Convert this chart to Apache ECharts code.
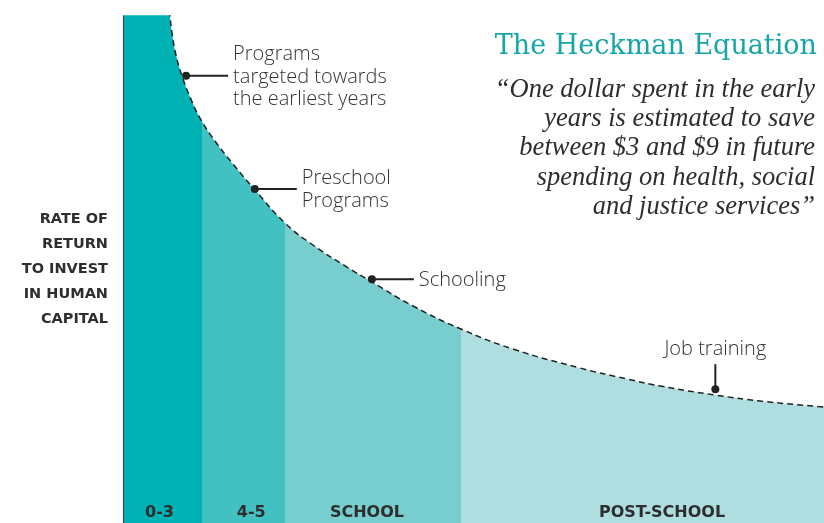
<!DOCTYPE html>
<html>
<head>
<meta charset="utf-8">
<script src="https://cdn.jsdelivr.net/npm/echarts@6/dist/echarts.min.js"></script>
<style>html,body{margin:0;padding:0;background:#fff}#c{width:824px;height:523px}</style>
</head>
<body>
<div id="c"></div>
<script>
// Curve (x: 0-100 along the life course, y: relative rate of return 0-100)
const curveX = [0, 6.4, 6.70, 6.99, 7.56, 8.42, 9.56, 10.98, 13.12, 15.69, 18.83, 23.11, 27.10, 31.95, 35.52, 41.37, 48.22, 55.63, 65.19, 71.90, 76.60, 84.45, 90.87, 100];
const curveY = [104, 104, 100.0, 96.65, 92.31, 88.17, 84.02, 79.88, 75.35, 70.81, 65.68, 59.17, 54.83, 50.49, 47.53, 42.80, 38.26, 34.32, 30.57, 28.40, 27.02, 25.25, 24.06, 22.88];

// Stage bands
const bandEdges = [0, 11.2, 23.1, 48.2, 100];
const bandNames = ['0-3', '4-5', 'SCHOOL', 'POST-SCHOOL'];
const bandLabelX = [5.2, 18.3, 34.8, 76.9];
const bandColors = ['#00b2b4', '#42c1c3', '#78cdce', '#afdee0'];

// Annotations
const annoLabels = ['Programs\ntargeted towards\nthe earliest years', 'Preschool\nPrograms', 'Schooling', 'Job training'];
const annoX = [9.0, 18.8, 35.5, 84.5];
const annoY = [88.2, 65.9, 48.1, 26.4];
const annoSide = ['right', 'right', 'right', 'up'];

const titleText = 'The Heckman Equation';
const quoteLines = ['\u201cOne dollar spent in the early', 'years is estimated to save', 'between $3 and $9 in future', 'spending on health, social', 'and justice services\u201d'];
const yAxisTitle = ['RATE OF', 'RETURN', 'TO INVEST', 'IN HUMAN', 'CAPITAL'];

const chart = echarts.init(document.getElementById('c'), null, {renderer: 'canvas'});

const pieces = bandColors.map((c, i) => {
  const p = {color: c};
  if (i > 0) p.gte = bandEdges[i];
  if (i < bandColors.length - 1) p.lt = bandEdges[i + 1];
  return p;
});

const annoFont = '300 20px "Open Sans", sans-serif';

const option = {
  animation: false,
  backgroundColor: '#fff',
  grid: {left: 123, right: 0, top: 16, bottom: 0},
  xAxis: {type: 'value', min: 0, max: 100, show: false},
  yAxis: {
    type: 'value', min: 0, max: 100, z: 10,
    axisLine: {show: true, lineStyle: {color: '#444', width: 1.2}},
    axisTick: {show: false}, axisLabel: {show: false}, splitLine: {show: false}
  },
  visualMap: {type: 'piecewise', show: false, dimension: 0, seriesIndex: 0, pieces: pieces},
  series: [
    {
      type: 'line',
      data: curveX.map((x, i) => [x, curveY[i]]),
      smooth: 0.5,
      showSymbol: false,
      clip: true,
      lineStyle: {color: '#222', width: 1.5, type: [6, 4]},
      areaStyle: {opacity: 1},
      z: 2
    },
    {
      type: 'custom',
      data: annoX.map((x, i) => [x, annoY[i]]),
      z: 5,
      clip: false,
      renderItem: function (params, api) {
        const i = params.dataIndex;
        const p = api.coord([api.value(0), api.value(1)]);
        const children = [];
        if (annoSide[i] === 'right') {
          children.push({type: 'line', shape: {x1: p[0], y1: p[1], x2: p[0] + 42, y2: p[1]}, style: {stroke: '#222', lineWidth: 2}});
          children.push({type: 'text', x: p[0] + 47, y: p[1] + 1, style: {text: annoLabels[i], font: annoFont, fill: '#333', align: 'left', verticalAlign: 'middle', lineHeight: 22.5}});
        } else {
          children.push({type: 'line', shape: {x1: p[0], y1: p[1], x2: p[0], y2: p[1] - 25}, style: {stroke: '#222', lineWidth: 2}});
          children.push({type: 'text', x: p[0], y: p[1] - 40, style: {text: annoLabels[i], font: annoFont, fill: '#333', align: 'center', verticalAlign: 'middle'}});
        }
        children.push({type: 'circle', shape: {cx: p[0], cy: p[1], r: 4}, style: {fill: '#222'}});
        return {type: 'group', children: children};
      }
    },
    {
      type: 'custom',
      data: bandLabelX.map((x) => [x, 0]),
      z: 6,
      clip: false,
      renderItem: function (params, api) {
        const p = api.coord([api.value(0), api.value(1)]);
        return {type: 'text', x: p[0], y: p[1] - 10, style: {text: bandNames[params.dataIndex], font: 'bold 16px "DejaVu Sans", sans-serif', fill: '#2e2e2e', align: 'center', verticalAlign: 'middle'}};
      }
    }
  ],
  graphic: [
    {type: 'text', x: 817, y: 33, style: {text: titleText, font: '27px "DejaVu Serif", serif', fill: '#17a6a7', align: 'right', verticalAlign: 'top'}},
    {type: 'text', x: 815, y: 75, style: {text: quoteLines.join('\n'), font: 'italic 26.5px "Liberation Serif", serif', fill: '#2e2e2e', align: 'right', verticalAlign: 'top', lineHeight: 29.3}},
    {type: 'text', x: 108, y: 207, style: {text: yAxisTitle.join('\n'), font: 'bold 14.5px "DejaVu Sans", sans-serif', fill: '#2e2e2e', align: 'right', verticalAlign: 'top', lineHeight: 25}}
  ]
};
chart.setOption(option);
</script>
</body>
</html>
